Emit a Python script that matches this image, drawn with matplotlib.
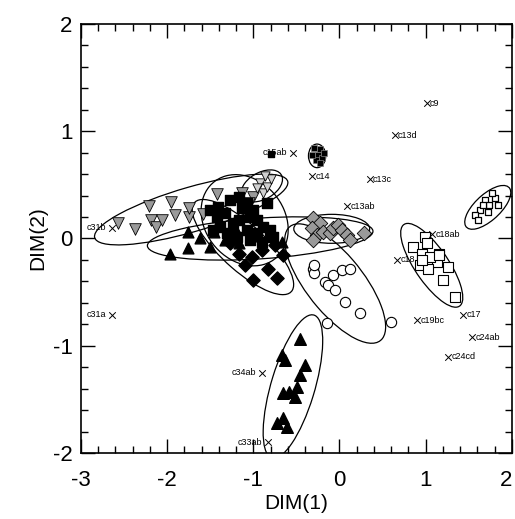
import matplotlib.pyplot as plt
from matplotlib.patches import Ellipse

plt.rcParams['font.family'] = ['Liberation Sans', 'DejaVu Sans']
plt.rcParams['axes.unicode_minus'] = False

# group points (DIM1, DIM2)
tri_gray_x = [-2.57, -2.37, -2.21, -2.19, -2.13, -2.06, -1.96, -1.91, -1.74, -1.74,
              -1.58, -1.42, -1.13, -1.00, -1.05]
tri_gray_y = [0.14, 0.09, 0.30, 0.17, 0.11, 0.17, 0.34, 0.22, 0.20, 0.28,
              0.23, 0.41, 0.42, 0.39, 0.33]
tri_gray2_x = [-0.92, -0.89, -0.84, -0.96, -0.80, -0.86]
tri_gray2_y = [0.52, 0.42, 0.48, 0.47, 0.55, 0.58]

sq_black_x = [-1.41, -1.27, -1.16, -1.07, -1.00, -0.84, -1.47, -1.39, -1.31, -1.24,
              -1.16, -1.19, -1.07, -0.96, -1.04, -0.89, -0.81, -0.77, -0.90, -1.13,
              -1.04, -1.33, -1.42, -1.50, -0.96]
sq_black_y = [0.29, 0.36, 0.39, 0.33, 0.27, 0.33, 0.08, 0.11, 0.05, 0.14,
              0.17, 0.01, 0.08, 0.05, -0.01, 0.11, 0.08, 0.01, -0.03, 0.28,
              0.20, 0.24, 0.20, 0.27, 0.17]
sq_small_x = [-0.80]
sq_small_y = [0.79]

dia_black_x = [-1.16, -1.02, -0.83, -0.73, -1.00, -0.90, -1.27, -0.75, -0.66, -1.10]
dia_black_y = [-0.14, -0.17, -0.28, -0.37, -0.39, -0.11, -0.04, -0.06, -0.15, -0.25]

tri_up_x = [-1.97, -1.76, -1.76, -1.62, -1.45, -1.33, -1.16, -0.98, -0.83, -0.67, -1.50, -1.21]
tri_up_y = [-0.14, -0.09, 0.06, 0.00, 0.06, -0.01, -0.04, 0.02, 0.02, -0.03, -0.08, 0.10]

tri_low_x = [-0.46, -0.67, -0.63, -0.40, -0.46, -0.49, -0.58, -0.66, -0.52, -0.66, -0.73, -0.61]
tri_low_y = [-0.94, -1.09, -1.13, -1.18, -1.27, -1.38, -1.43, -1.44, -1.48, -1.67, -1.72, -1.76]

circ_x = [-0.31, -0.29, -0.30, -0.08, 0.03, 0.12, -0.17, -0.13, -0.05, 0.06, 0.24, -0.15, 0.60]
circ_y = [-0.28, -0.32, -0.25, -0.34, -0.29, -0.28, -0.41, -0.43, -0.48, -0.59, -0.69, -0.79, -0.78]

dia_gray_x = [-0.31, -0.23, -0.32, -0.26, -0.19, -0.11, -0.08, -0.02, 0.03, 0.09, 0.12, 0.29, -0.31]
dia_gray_y = [0.19, 0.14, 0.10, 0.03, 0.06, 0.05, 0.10, 0.13, 0.08, 0.03, -0.01, 0.05, -0.01]

sq_open_x = [0.99, 1.01, 0.85, 0.96, 1.16, 1.05, 1.13, 0.93, 1.03, 1.05, 1.16, 1.26, 1.20, 1.34, 0.96]
sq_open_y = [0.01, -0.04, -0.08, -0.14, -0.14, -0.22, -0.22, -0.25, -0.28, -0.17, -0.15, -0.27, -0.39, -0.55, -0.20]

ur_x = [1.69, 1.74, 1.80, 1.63, 1.72, 1.57, 1.84, 1.77, 1.66, 1.61]
ur_y = [0.36, 0.31, 0.38, 0.27, 0.25, 0.22, 0.31, 0.42, 0.31, 0.17]

c14_x = [-0.29, -0.23, -0.25, -0.20, -0.27, -0.23, -0.32, -0.18]
c14_y = [0.84, 0.83, 0.78, 0.75, 0.73, 0.70, 0.78, 0.80]

# labelled centroids
cent_names = ['c9', 'c13d', 'c14', 'c13c', 'c13ab', 'c18ab', 'c18', 'c19bc', 'c17',
              'c24ab', 'c24cd', 'c34ab', 'c33ab', 'c31a', 'c31b', 'c15ab']
cent_x = [1.01, 0.64, -0.32, 0.35, 0.09, 1.07, 0.67, 0.90, 1.43, 1.54, 1.26,
          -0.90, -0.83, -2.64, -2.64, -0.54]
cent_y = [1.26, 0.96, 0.58, 0.55, 0.30, 0.04, -0.20, -0.76, -0.71, -0.92, -1.10,
          -1.25, -1.90, -0.71, 0.10, 0.80]
left_labels = ['c34ab', 'c33ab', 'c31a', 'c31b', 'c15ab']

# ellipses: centre x, centre y, width, height, angle
ell_cx = [-1.72, -0.90, -0.92, -1.10, -1.12, -0.54, -0.05, -0.09, 1.07, 1.72, -0.26]
ell_cy = [0.27, 0.49, 0.00, 0.17, -0.08, -1.38, -0.42, 0.09, -0.25, 0.29, 0.77]
ell_w = [2.30, 0.50, 2.62, 1.05, 1.40, 1.42, 1.50, 0.88, 1.00, 0.62, 0.22]
ell_h = [0.42, 0.26, 0.38, 0.80, 0.46, 0.50, 0.60, 0.27, 0.36, 0.26, 0.20]
ell_a = [13, 20, 3, -25, -35, 69, -43, 0, -48, 34, 90]

fig = plt.figure(figsize=(5.15, 5.19), dpi=100)
ax = fig.add_axes([0.157, 0.127, 0.837, 0.827])

for cx, cy, w, h, a in zip(ell_cx, ell_cy, ell_w, ell_h, ell_a):
    ax.add_patch(Ellipse((cx, cy), w, h, angle=a, fill=False, ec='black', lw=0.9, zorder=2))

gray = '#9a9a9a'
ax.scatter(tri_gray_x, tri_gray_y, marker='v', s=70, c=gray, edgecolors='black', linewidths=0.6, zorder=3)
ax.scatter(tri_gray2_x, tri_gray2_y, marker='v', s=45, c='#d0d0d0', edgecolors='black', linewidths=0.6, zorder=3)
ax.scatter(sq_black_x, sq_black_y, marker='s', s=60, c='black', zorder=3)
ax.scatter(sq_small_x, sq_small_y, marker='s', s=22, c='black', zorder=3)
ax.scatter(dia_black_x, dia_black_y, marker='D', s=45, c='black', zorder=3)
ax.scatter(tri_up_x, tri_up_y, marker='^', s=60, c='black', zorder=3)
ax.scatter(tri_low_x, tri_low_y, marker='^', s=70, c='black', zorder=3)
ax.scatter(circ_x, circ_y, marker='o', s=55, facecolors='white', edgecolors='black', linewidths=0.8, zorder=3)
ax.scatter(dia_gray_x, dia_gray_y, marker='D', s=55, c=gray, edgecolors='black', linewidths=0.6, zorder=3)
ax.scatter(sq_open_x, sq_open_y, marker='s', s=60, facecolors='white', edgecolors='black', linewidths=0.8, zorder=3)
ax.scatter(ur_x, ur_y, marker='s', s=25, facecolors='white', edgecolors='black', linewidths=0.9, zorder=3)
ax.scatter(c14_x, c14_y, marker='s', s=22, c='black', edgecolors='gray', linewidths=0.5, zorder=3)

ax.scatter(cent_x, cent_y, marker='x', s=22, c='black', linewidths=0.7, zorder=4)
for name, x, y in zip(cent_names, cent_x, cent_y):
    if name in left_labels:
        ax.text(x - 0.07, y, name, fontsize=6.5, ha='right', va='center', zorder=5)
    elif name == 'c14':
        ax.text(x + 0.04, y, name, fontsize=6.5, ha='left', va='center', zorder=4)
    else:
        ax.text(x + 0.04, y, name, fontsize=6.5, ha='left', va='center', zorder=2)

ax.set_xlim(-3, 2)
ax.set_ylim(-2, 2)
ax.set_xticks([-3, -2, -1, 0, 1, 2])
ax.set_yticks([-2, -1, 0, 1, 2])
ax.minorticks_on()
ax.tick_params(which='both', direction='in', top=True, right=True, width=1)
ax.tick_params(which='major', length=10, labelsize=16, pad=6)
ax.tick_params(axis='x', which='major', pad=12)
ax.tick_params(which='minor', length=5)
for sp in ax.spines.values():
    sp.set_linewidth(1.2)
ax.get_xticklabels()[-1].set_horizontalalignment('right')

ax.set_xlabel('DIM(1)', fontsize=15, labelpad=2)
ax.set_ylabel('DIM(2)', fontsize=15, labelpad=4)

fig.savefig('out.png', dpi=100)
